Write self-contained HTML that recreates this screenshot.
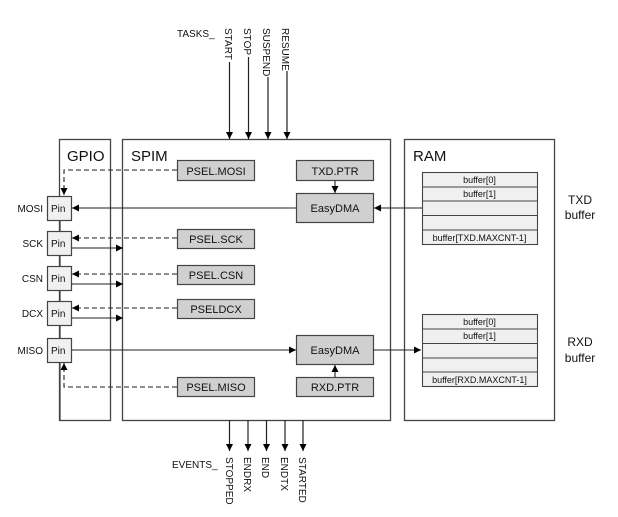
<!DOCTYPE html>
<html><head><meta charset="utf-8"><style>
html,body{margin:0;padding:0;background:#fff;}
svg{display:block;}
text{font-family:"Liberation Sans",sans-serif;fill:#111;}
</style></head><body>
<svg width="618" height="517" viewBox="0 0 618 517" xmlns="http://www.w3.org/2000/svg">
<defs>
<marker id="a" viewBox="0 0 10 10" refX="10" refY="5" markerWidth="7" markerHeight="7" orient="auto-start-reverse" markerUnits="userSpaceOnUse"><path d="M0,0 L10,5 L0,10 z" fill="#000"/></marker>
</defs>
<g fill="none" stroke="#444" stroke-width="1.3">
<rect x="59.5" y="139.5" width="51" height="281"/>
<rect x="122.5" y="139.5" width="268" height="281"/>
<rect x="404.5" y="139.5" width="150" height="281"/>
<line x1="60" y1="221" x2="60" y2="420"/>
</g>
<text x="67" y="161" font-size="15">GPIO</text>
<text x="131" y="161" font-size="15">SPIM</text>
<text x="413" y="161" font-size="15">RAM</text>

<!-- tasks -->
<text x="177" y="37" font-size="10">TASKS_</text>
<g font-size="10">
<text transform="translate(225,28) rotate(90)">START</text>
<text transform="translate(244,28) rotate(90)">STOP</text>
<text transform="translate(263,28) rotate(90)">SUSPEND</text>
<text transform="translate(282,28) rotate(90)">RESUME</text>
</g>
<g stroke="#222" stroke-width="1.2" marker-end="url(#a)">
<line x1="229.5" y1="62" x2="229.5" y2="139"/>
<line x1="248.5" y1="57" x2="248.5" y2="139"/>
<line x1="268" y1="77" x2="268" y2="139"/>
<line x1="287" y1="71" x2="287" y2="139"/>
</g>

<!-- events -->
<g stroke="#222" stroke-width="1.2" marker-end="url(#a)">
<line x1="229.5" y1="420" x2="229.5" y2="451"/>
<line x1="248" y1="420" x2="248" y2="451"/>
<line x1="266.5" y1="420" x2="266.5" y2="451"/>
<line x1="285" y1="420" x2="285" y2="451"/>
<line x1="303" y1="420" x2="303" y2="451"/>
</g>
<text x="172" y="468" font-size="10">EVENTS_</text>
<g font-size="10">
<text transform="translate(226,457) rotate(90)">STOPPED</text>
<text transform="translate(244,457) rotate(90)">ENDRX</text>
<text transform="translate(262,457) rotate(90)">END</text>
<text transform="translate(281,457) rotate(90)">ENDTX</text>
<text transform="translate(299,457) rotate(90)">STARTED</text>
</g>

<!-- pins -->
<g fill="#f0f0f0" stroke="#444" stroke-width="1.2">
<rect x="47.5" y="196.5" width="24" height="24"/>
<rect x="47.5" y="231.5" width="24" height="24"/>
<rect x="47.5" y="266.5" width="24" height="24"/>
<rect x="47.5" y="301.5" width="24" height="24"/>
<rect x="47.5" y="338.5" width="24" height="24"/>
</g>
<g font-size="10">
<text x="51" y="212">Pin</text><text x="51" y="247">Pin</text><text x="51" y="282">Pin</text><text x="51" y="317">Pin</text><text x="51" y="354">Pin</text>
<text x="43" y="212" text-anchor="end">MOSI</text>
<text x="43" y="247" text-anchor="end">SCK</text>
<text x="43" y="282" text-anchor="end">CSN</text>
<text x="43" y="317" text-anchor="end">DCX</text>
<text x="43" y="354" text-anchor="end">MISO</text>
</g>

<!-- grey boxes -->
<g fill="#d0d0d0" stroke="#444" stroke-width="1.2">
<rect x="177.5" y="160.5" width="77" height="20"/>
<rect x="177.5" y="229.5" width="77" height="19"/>
<rect x="177.5" y="265.5" width="77" height="19"/>
<rect x="177.5" y="299.5" width="77" height="19"/>
<rect x="177.5" y="377.5" width="77" height="19"/>
<rect x="296.5" y="160.5" width="77" height="20"/>
<rect x="296.5" y="193.5" width="77" height="29"/>
<rect x="296.5" y="335.5" width="77" height="29"/>
<rect x="296.5" y="377.5" width="77" height="19"/>
</g>
<g font-size="11" text-anchor="middle">
<text x="216" y="175">PSEL.MOSI</text>
<text x="216" y="243">PSEL.SCK</text>
<text x="216" y="279">PSEL.CSN</text>
<text x="216" y="313">PSELDCX</text>
<text x="216" y="391">PSEL.MISO</text>
<text x="335" y="175">TXD.PTR</text>
<text x="335" y="212">EasyDMA</text>
<text x="335" y="354">EasyDMA</text>
<text x="335" y="391">RXD.PTR</text>
</g>

<!-- connectors -->
<g fill="none" stroke="#222" stroke-width="1.1" stroke-dasharray="5,3">
<path d="M177,170 H64 V195" marker-end="url(#a)"/>
<path d="M177,238 H72" marker-end="url(#a)"/>
<path d="M177,274 H72" marker-end="url(#a)"/>
<path d="M177,308 H72" marker-end="url(#a)"/>
<path d="M177,387 H64 V363" marker-end="url(#a)"/>
</g>
<g fill="none" stroke="#222" stroke-width="1.1">
<path d="M296,208 H72" marker-end="url(#a)"/>
<path d="M72,248 H123" marker-end="url(#a)"/>
<path d="M72,284 H123" marker-end="url(#a)"/>
<path d="M72,318 H123" marker-end="url(#a)"/>
<path d="M72,350 H296" marker-end="url(#a)"/>
<path d="M335,181 V193" marker-end="url(#a)"/>
<path d="M335,377 V365" marker-end="url(#a)"/>
<path d="M422,208 H374" marker-end="url(#a)"/>
<path d="M373,350 H421" marker-end="url(#a)"/>
</g>

<!-- buffers -->
<g fill="#f0f0f0" stroke="#444" stroke-width="1.1">
<rect x="422.5" y="172.5" width="115" height="72"/>
<line x1="422" y1="187" x2="537" y2="187"/><line x1="422" y1="201" x2="537" y2="201"/><line x1="422" y1="215.5" x2="537" y2="215.5"/><line x1="422" y1="230" x2="537" y2="230"/>
<rect x="422.5" y="314.5" width="115" height="72"/>
<line x1="422" y1="329" x2="537" y2="329"/><line x1="422" y1="343.5" x2="537" y2="343.5"/><line x1="422" y1="358" x2="537" y2="358"/><line x1="422" y1="372" x2="537" y2="372"/>
</g>
<g font-size="9" text-anchor="middle">
<text x="479.5" y="183">buffer[0]</text>
<text x="479.5" y="197">buffer[1]</text>
<text x="479.5" y="241">buffer[TXD.MAXCNT-1]</text>
<text x="479.5" y="325">buffer[0]</text>
<text x="479.5" y="339">buffer[1]</text>
<text x="479.5" y="383">buffer[RXD.MAXCNT-1]</text>
</g>
<g font-size="12" text-anchor="middle">
<text x="580" y="204">TXD</text><text x="580" y="219">buffer</text>
<text x="580" y="346">RXD</text><text x="580" y="362">buffer</text>
</g>
</svg>
</body></html>
